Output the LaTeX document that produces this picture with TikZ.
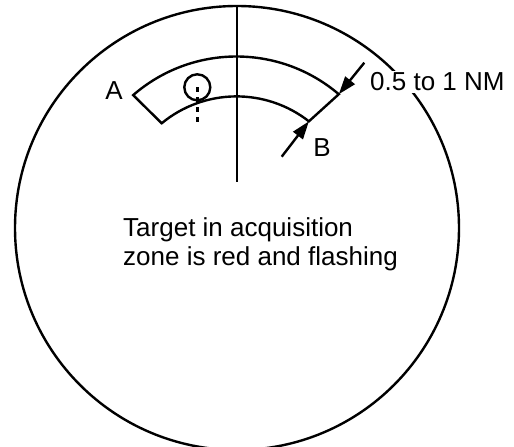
\documentclass[tikz,border=0pt]{standalone}
\usepackage{fontspec}
\setmainfont{Liberation Sans}
\usetikzlibrary{arrows.meta}
\begin{document}
\begin{tikzpicture}[x=1pt,y=1pt,line width=2.4pt,
  label text/.style={font=\fontsize{26}{29}\selectfont, inner sep=0pt},
  penunjuk/.style={-{Triangle[length=18pt,width=12pt]}}]

\useasboundingbox (0,0) rectangle (514,447);

% Lingkaran layar radar
\coordinate (c) at (237,219);
\draw (c) circle (222);

% Garis haluan
\coordinate (atas) at (237,441);
\coordinate (bawah) at (237,265);
\draw (atas) -- (bawah);

% Titik-titik sudut zona akuisisi
\coordinate (o) at (236.5,233);
\coordinate (outL) at ([shift={(131:157.5)}]o);
\coordinate (outR) at ([shift={(49.5:157.5)}]o);
\coordinate (inR) at ([shift={(52:117.6)}]o);
\coordinate (inL) at ([shift={(129.5:117.6)}]o);

% Gambar zona akuisisi
\draw[line join=miter] (outL) arc[start angle=131, end angle=49.5, radius=157.5] -- (inR)
  arc[start angle=52, end angle=129.5, radius=117.6] -- cycle;

% Target dengan garis putus-putus
\coordinate (tgt) at (197.3,359.7);
\coordinate (tgtb) at (197.3,322);
\draw (tgt) circle (13);
\draw[dash pattern=on 5pt off 5pt] (tgt) -- (tgtb);

% Panah lebar zona
\coordinate (pA) at (364.3,384.3);
\coordinate (pB) at (281.7,290.3);
\draw[penunjuk] (pA) -- (outR);
\draw[penunjuk] (pB) -- (inR);

% Label
\node[label text] (A) at (114,356) {A};
\node[label text] (B) at (322,299) {B};
\node[label text, fill=white, inner sep=2pt, anchor=base west] (lebar) at (367,356) {0.5 to 1 NM};
\node[label text, anchor=base west] (ket1) at (122,210) {Target in acquisition};
\node[label text, anchor=base west] (ket2) at (122,181) {zone is red and flashing};
\end{tikzpicture}
\end{document}
